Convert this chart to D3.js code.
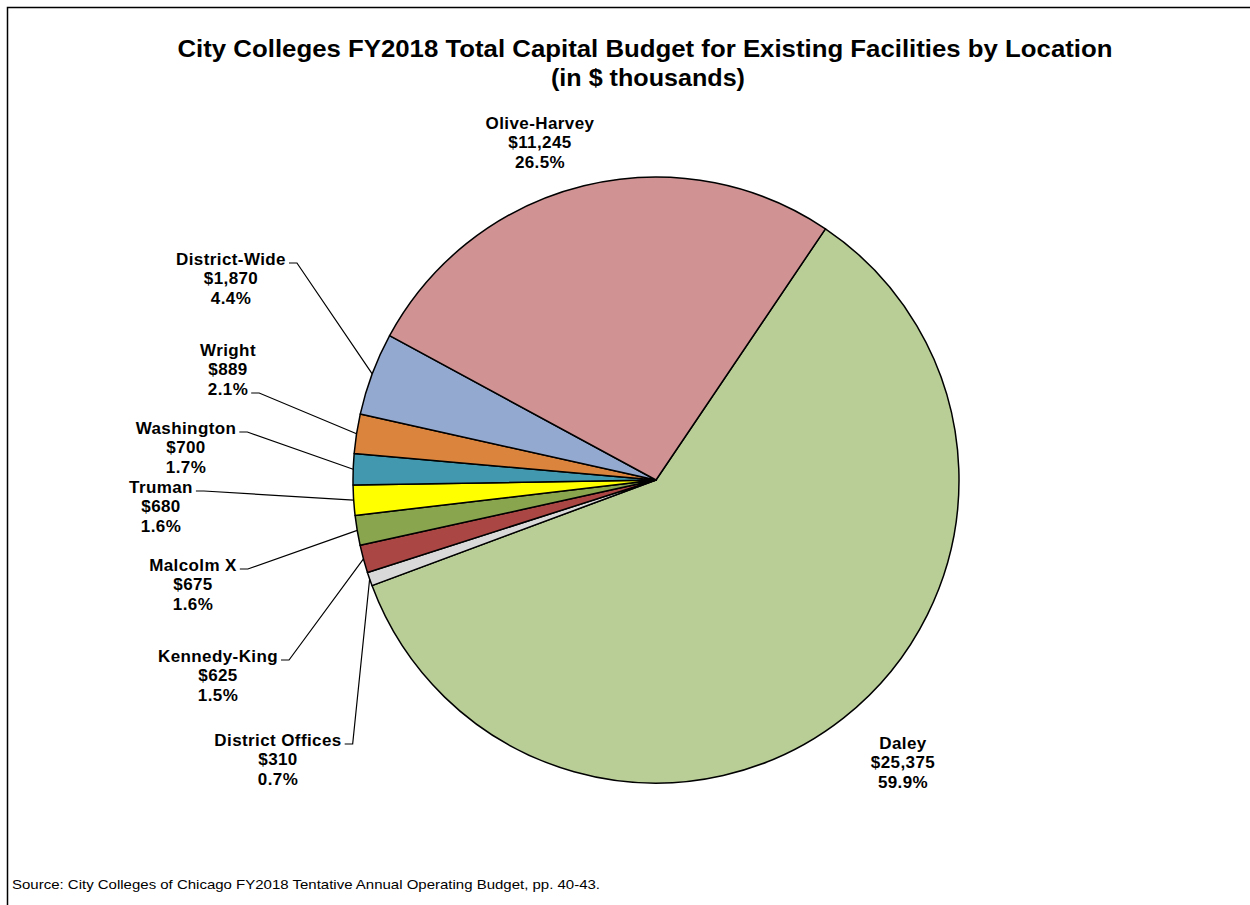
<!DOCTYPE html>
<html>
<head>
<meta charset="utf-8">
<script src="https://cdn.jsdelivr.net/npm/d3@7"></script>
<style>
  html, body { margin: 0; padding: 0; background: #fff; }
  svg { display: block; }
</style>
</head>
<body>
<svg id="chart" width="1250" height="905"></svg>
<script>
// ---- data ----
const locations = ["Daley", "District Offices", "Kennedy-King", "Malcolm X", "Truman", "Washington", "Wright", "District-Wide", "Olive-Harvey"];
const amounts   = [25375, 310, 625, 675, 680, 700, 889, 1870, 11245];
const amountLabels = ["$25,375", "$310", "$625", "$675", "$680", "$700", "$889", "$1,870", "$11,245"];
const pctLabels    = ["59.9%", "0.7%", "1.5%", "1.6%", "1.6%", "1.7%", "2.1%", "4.4%", "26.5%"];
const sliceColors  = ["#B9CE97", "#D9D9D9", "#AA4643", "#89A54E", "#FFFF00", "#4198AF", "#DB843D", "#93A9CF", "#D09293"];

// ---- layout (label placement, not data) ----
const labelCenters = [[903, 743], [278, 740], [218, 656], [193, 565], [161, 487], [186, 428], [228, 350], [231, 259], [540, 123]];
const leaderLine   = [-1, 0, 0, 0, 0, 0, 2, 0, -1];

const svg = d3.select("#chart");
const cx = 656, cy = 480, r = 303;
const lineH = 19.5;

// frame
svg.append("path").attr("d", "M7.5,905 V7.5 H1250").attr("fill", "none").attr("stroke", "#000").attr("stroke-width", 1.5);

// title
const title = svg.append("g").attr("font-family", "'Liberation Sans', Arial, sans-serif").attr("font-weight", "bold").attr("font-size", 24).attr("text-anchor", "middle");
title.append("text").attr("x", 645).attr("y", 57).attr("textLength", 935).attr("lengthAdjust", "spacingAndGlyphs")
  .text("City Colleges FY2018 Total Capital Budget for Existing Facilities by Location");
title.append("text").attr("x", 648).attr("y", 86).attr("textLength", 194).attr("lengthAdjust", "spacingAndGlyphs")
  .text("(in $ thousands)");

// pie
const startDeg = 34;
const pie = d3.pie().sort(null).value(d => d)
  .startAngle(startDeg * Math.PI / 180).endAngle((startDeg + 360) * Math.PI / 180);
const arcs = pie(amounts);
const arc = d3.arc().innerRadius(0).outerRadius(r);

const g = svg.append("g").attr("transform", `translate(${cx},${cy})`);
g.selectAll("path.slice").data(arcs).join("path")
  .attr("class", "slice")
  .attr("d", arc)
  .attr("fill", (d, i) => sliceColors[i])
  .attr("stroke", "#000").attr("stroke-width", 1.5).attr("stroke-linejoin", "round");

// labels
const lab = svg.append("g").attr("font-family", "'Liberation Sans', Arial, sans-serif").attr("font-weight", "bold").attr("font-size", 17).attr("letter-spacing", 0.4).attr("fill", "#000");
arcs.forEach((a, i) => {
  const [lx, ly] = labelCenters[i];
  const lines = [locations[i], amountLabels[i], pctLabels[i]];
  const texts = lines.map((t, k) => lab.append("text")
    .attr("x", lx).attr("y", ly + k * lineH)
    .attr("dy", "0.35em").attr("text-anchor", "middle")
    .style("white-space", "pre")
    .text(t));
  const li = leaderLine[i];
  if (li >= 0) {
    const w = texts[li].node().getComputedTextLength();
    const x0 = lx + w / 2 + 3, y0 = ly + li * lineH + 4;
    const mid = (a.startAngle + a.endAngle) / 2;
    const px = cx + r * Math.sin(mid), py = cy - r * Math.cos(mid);
    svg.append("path")
      .attr("d", `M${x0},${y0} H${x0 + 8} L${px},${py}`)
      .attr("fill", "none").attr("stroke", "#000").attr("stroke-width", 1.2);
  }
});

// source
svg.append("text").attr("x", 12).attr("y", 889)
  .attr("font-family", "'Liberation Sans', Arial, sans-serif").attr("font-size", 13.5)
  .attr("textLength", 588).attr("lengthAdjust", "spacingAndGlyphs")
  .text("Source:  City Colleges of Chicago FY2018 Tentative Annual Operating Budget, pp. 40-43.");
</script>
</body>
</html>
